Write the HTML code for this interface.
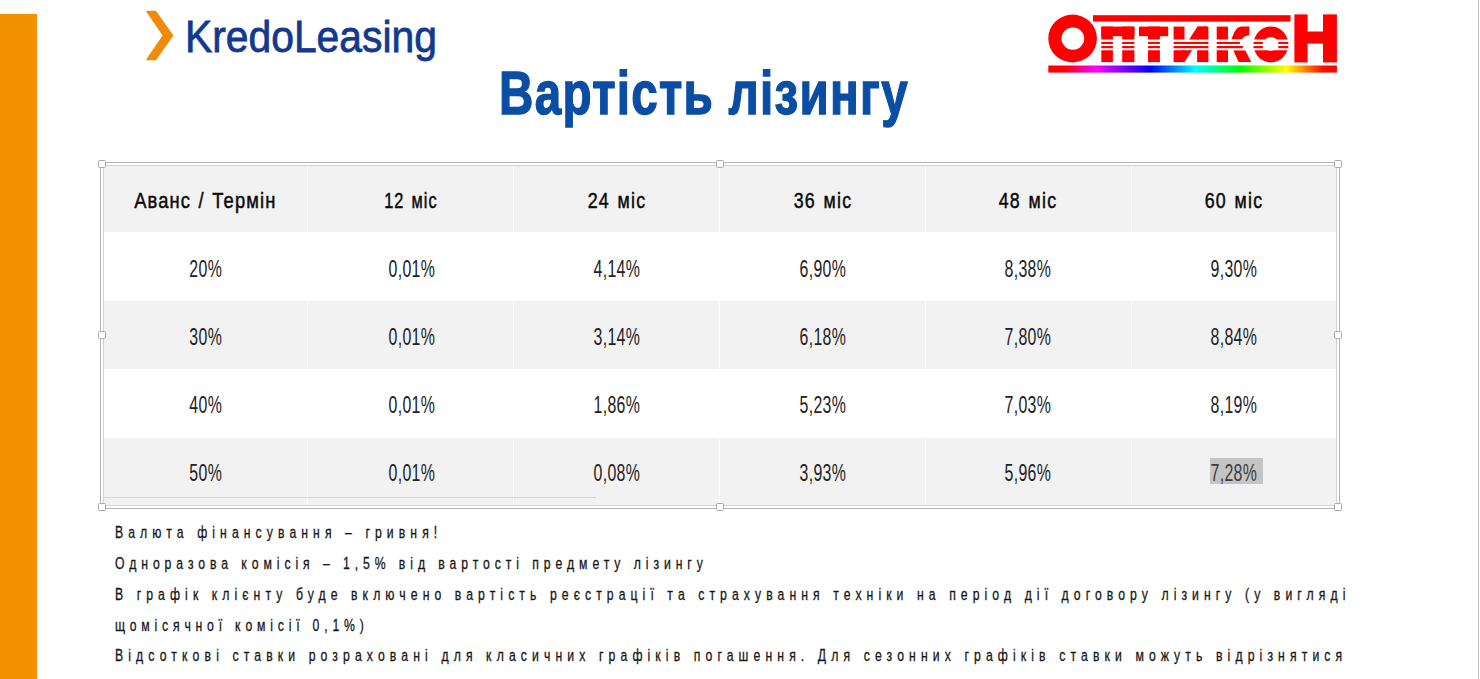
<!DOCTYPE html>
<html><head><meta charset="utf-8">
<style>
html,body{margin:0;padding:0;}
body{width:1480px;height:679px;overflow:hidden;background:#fff;position:relative;font-family:"Liberation Sans",sans-serif;}
.abs{position:absolute;}
.t{position:absolute;white-space:pre;line-height:1;}
#bar{left:0;top:14px;width:37px;height:665px;background:#F39100;}
#rline{left:1478px;top:0;width:1px;height:679px;background:#bfbfbf;}
#title{left:499px;top:61.8px;font-size:62px;font-weight:700;color:#0A4EA4;-webkit-text-stroke:1.4px #0A4EA4;letter-spacing:1.65px;transform:scaleX(0.768);transform-origin:0 0;}
#kredo{left:184.5px;top:14px;font-size:45px;color:#13388F;-webkit-text-stroke:0.8px #13388F;transform:scaleX(0.907);transform-origin:0 0;}
/* table */
#tbl{left:103px;top:165px;width:1234px;height:340px;}
.row{position:absolute;left:0;width:1234px;}
.g{background:#F2F2F2;}
.vl{position:absolute;top:0;width:1px;height:340px;background:#fdfdfd;}
.cell{position:absolute;width:205.5px;height:30px;text-align:center;}
.cell span{display:inline-block;white-space:pre;line-height:1;}
.h span{font-size:22.5px;font-weight:400;color:#0a0a0a;-webkit-text-stroke:0.5px #0a0a0a;letter-spacing:1.5px;word-spacing:2px;transform:scaleX(0.79);}
.d span{font-size:23px;color:#222;letter-spacing:0.5px;transform:scaleX(0.69);}
.hd{position:absolute;width:6px;height:6px;border:1px solid #a8a8a8;border-radius:1.5px;background:#fff;}
.d span.sel{color:#3c3c3c;}
.note{position:absolute;font-size:16.3px;color:#161616;-webkit-text-stroke:0.3px #161616;white-space:pre;line-height:1;transform:scaleX(0.75);transform-origin:0 0;}
</style></head>
<body>
<div id="bar" class="abs"></div>
<div id="rline" class="abs"></div>

<!-- Kredo logo -->
<svg class="abs" style="left:0;top:0" width="200" height="70">
  <path d="M147,11.5 L155.5,11.5 L172.5,35.5 L155.5,59.5 L147,59.5 L163.5,35.5 Z" fill="#F28A08" stroke="#F28A08" stroke-width="1.4" stroke-linejoin="round"/>
</svg>
<div id="kredo" class="t">KredoLeasing</div>

<!-- Optikon logo -->
<svg class="abs" style="left:1040px;top:10px" width="305" height="70" viewBox="1040 10 305 70">
  <defs>
    <linearGradient id="rb" x1="1048.3" x2="1336.9" gradientUnits="userSpaceOnUse">
      <stop offset="0" stop-color="#ff0000"/>
      <stop offset="0.06" stop-color="#ff0010"/>
      <stop offset="0.165" stop-color="#ff00ff"/>
      <stop offset="0.352" stop-color="#0000ff"/>
      <stop offset="0.51" stop-color="#00ffff"/>
      <stop offset="0.663" stop-color="#00ff00"/>
      <stop offset="0.824" stop-color="#ffff00"/>
      <stop offset="0.95" stop-color="#ff1000"/>
      <stop offset="1" stop-color="#ff0000"/>
    </linearGradient>
  </defs>
  <path fill="#f00" fill-rule="evenodd" d="M1048.3,38.5 a24.3,23.85 0 1,0 48.6,0 a24.3,23.85 0 1,0 -48.6,0 Z M1061.5,38.6 a11.35,11.05 0 1,0 22.7,0 a11.35,11.05 0 1,0 -22.7,0 Z"/>
  <rect x="1093" y="15.2" width="197.5" height="6.4" fill="#f00"/>
  <g fill="#f00">
    <!-- н big -->
    <rect x="1294.4" y="14.4" width="13.2" height="48"/>
    <rect x="1323" y="14.4" width="13.9" height="48"/>
    <rect x="1307" y="31.5" width="16.5" height="12.1"/>
  </g>
  <g fill="#f00" clip-path="url(#cl)">
    <!-- п -->
    <rect x="1101.3" y="26.6" width="33.1" height="9.6"/>
    <rect x="1101.3" y="26.6" width="11.6" height="35.5"/>
    <rect x="1122.2" y="26.6" width="12.2" height="35.5"/>
    <!-- т -->
    <rect x="1139" y="26.6" width="29.2" height="9.6"/>
    <rect x="1148" y="26.6" width="11.9" height="35.5"/>
    <!-- и -->
    <rect x="1173.6" y="26.6" width="10.9" height="35.5"/>
    <rect x="1197.1" y="26.6" width="11.3" height="35.5"/>
    <polygon points="1197.5,26.6 1207.4,26.6 1184.5,62.1 1174.6,62.1"/>
    <!-- к -->
    <rect x="1216.7" y="26.6" width="11.3" height="35.5"/>
    <path d="M1227,39.5 L1231.3,39.5 C1234,33 1236,27 1241.2,26.6 L1249.5,26.6 L1249.2,35.2 C1246,35.5 1243,36.5 1241.9,39.5 Z"/>
    <polygon points="1233.3,50.2 1245.2,50.2 1251.2,62.1 1238.6,62.1"/>
    <!-- о -->
    <path fill-rule="evenodd" d="M1253.5,44.45 a17.4,17.95 0 1,0 34.8,0 a17.4,17.95 0 1,0 -34.8,0 Z M1263.4,43.9 a7.45,6.9 0 1,0 14.9,0 a7.45,6.9 0 1,0 -14.9,0 Z"/>
  </g>
  <clipPath id="cl">
    <rect x="1090" y="20" width="200" height="19.5"/>
    <rect x="1090" y="50.2" width="200" height="15"/>
  </clipPath>
  <g fill="#f00">
    <rect x="1101.3" y="41.9" width="11.6" height="2.1"/><rect x="1101.3" y="46" width="11.6" height="2.2"/>
    <rect x="1122.2" y="41.9" width="12.2" height="2.1"/><rect x="1122.2" y="46" width="12.2" height="2.2"/>
    <rect x="1148" y="41.9" width="11.9" height="2.1"/><rect x="1148" y="46" width="11.9" height="2.2"/>
    <rect x="1173.6" y="41.9" width="34.8" height="2.1"/><rect x="1173.6" y="46" width="34.8" height="2.2"/>
    <rect x="1216.7" y="41.9" width="23.2" height="2.1"/><rect x="1216.7" y="46" width="26.2" height="2.2"/>
    <rect x="1253.5" y="41.9" width="9.4" height="2.1"/><rect x="1253.5" y="46" width="9.4" height="2.2"/>
    <rect x="1278.3" y="41.9" width="10" height="2.1"/><rect x="1278.3" y="46" width="10" height="2.2"/>
  </g>
  <rect x="1048.3" y="65.5" width="288.6" height="7.1" fill="url(#rb)"/>
</svg>

<div id="title" class="t">Вартість лізингу</div>

<!-- table -->
<div id="tbl" class="abs">
  <div class="row g" style="top:0;height:67px"></div>
  <div class="row" style="top:67px;height:69px"></div>
  <div class="row g" style="top:136px;height:68px"></div>
  <div class="row" style="top:204px;height:69px"></div>
  <div class="row g" style="top:273px;height:67px"></div>
  <div class="vl" style="left:204px"></div>
  <div class="vl" style="left:410px"></div>
  <div class="vl" style="left:616px"></div>
  <div class="vl" style="left:822px"></div>
  <div class="vl" style="left:1028px"></div>
</div>

<!-- selection frame -->
<div class="abs" style="left:100px;top:162px;width:1239px;height:346px;border:1px solid #b4b4b4;box-sizing:border-box;width:1240px;height:347px"></div>
<div class="abs" style="left:103px;top:165px;width:1234px;height:341px;border:1px solid #d2d2d2;box-sizing:border-box"></div>
<div class="abs" style="left:103px;top:497px;width:493px;height:1px;background:#d6d6d6"></div>
<div class="hd" style="left:98px;top:160px"></div>
<div class="hd" style="left:716px;top:160px"></div>
<div class="hd" style="left:1334px;top:160px"></div>
<div class="hd" style="left:98px;top:331px"></div>
<div class="hd" style="left:1334px;top:331px"></div>
<div class="hd" style="left:98px;top:503px"></div>
<div class="hd" style="left:716px;top:503px"></div>
<div class="hd" style="left:1334px;top:503px"></div>
<div class="abs" style="left:1210px;top:458px;width:53px;height:26px;background:#C4C4C4"></div>
<!--CELLS-->
<div class="cell h" style="left:102.5px;top:189.65px"><span style="transform:scaleX(0.815);word-spacing:1.5px;letter-spacing:1.4px">Аванс / Термін</span></div>
<div class="cell h" style="left:308.0px;top:189.65px"><span style="transform:scaleX(0.725)">12 міс</span></div>
<div class="cell h" style="left:514.5px;top:189.65px"><span>24 міс</span></div>
<div class="cell h" style="left:720.0px;top:189.65px"><span>36 міс</span></div>
<div class="cell h" style="left:925.5px;top:189.65px"><span>48 міс</span></div>
<div class="cell h" style="left:1131.0px;top:189.65px"><span>60 міс</span></div>
<div class="cell d" style="left:103.5px;top:257.53px"><span>20%</span></div>
<div class="cell d" style="left:309.0px;top:257.53px"><span>0,01%</span></div>
<div class="cell d" style="left:514.5px;top:257.53px"><span>4,14%</span></div>
<div class="cell d" style="left:720.0px;top:257.53px"><span>6,90%</span></div>
<div class="cell d" style="left:925.5px;top:257.53px"><span>8,38%</span></div>
<div class="cell d" style="left:1131.0px;top:257.53px"><span>9,30%</span></div>
<div class="cell d" style="left:103.5px;top:325.53px"><span>30%</span></div>
<div class="cell d" style="left:309.0px;top:325.53px"><span>0,01%</span></div>
<div class="cell d" style="left:514.5px;top:325.53px"><span>3,14%</span></div>
<div class="cell d" style="left:720.0px;top:325.53px"><span>6,18%</span></div>
<div class="cell d" style="left:925.5px;top:325.53px"><span>7,80%</span></div>
<div class="cell d" style="left:1131.0px;top:325.53px"><span>8,84%</span></div>
<div class="cell d" style="left:103.5px;top:393.53px"><span>40%</span></div>
<div class="cell d" style="left:309.0px;top:393.53px"><span>0,01%</span></div>
<div class="cell d" style="left:514.5px;top:393.53px"><span>1,86%</span></div>
<div class="cell d" style="left:720.0px;top:393.53px"><span>5,23%</span></div>
<div class="cell d" style="left:925.5px;top:393.53px"><span>7,03%</span></div>
<div class="cell d" style="left:1131.0px;top:393.53px"><span>8,19%</span></div>
<div class="cell d" style="left:103.5px;top:461.53px"><span>50%</span></div>
<div class="cell d" style="left:309.0px;top:461.53px"><span>0,01%</span></div>
<div class="cell d" style="left:514.5px;top:461.53px"><span>0,08%</span></div>
<div class="cell d" style="left:720.0px;top:461.53px"><span>3,93%</span></div>
<div class="cell d" style="left:925.5px;top:461.53px"><span>5,96%</span></div>
<div class="cell d" style="left:1131.0px;top:461.53px"><span class="sel">7,28%</span></div>
<!--/CELLS-->

<!--NOTES-->
<div class="note" style="top:523.90px;left:115px;letter-spacing:6.776px">Валюта фінансування – гривня!</div>
<div class="note" style="top:555.00px;left:115px;letter-spacing:6.569px">Одноразова комісія – 1,5% від вартості предмету лізингу</div>
<div class="note" style="top:585.90px;left:115px;letter-spacing:6.770px">В графік клієнту буде включено вартість реєстрації та страхування техніки на період дії договору лізингу (у вигляді</div>
<div class="note" style="top:616.50px;left:115px;letter-spacing:6.413px">щомісячної комісії 0,1%)</div>
<div class="note" style="top:647.20px;left:115px;letter-spacing:6.819px">Відсоткові ставки розраховані для класичних графіків погашення. Для сезонних графіків ставки можуть відрізнятися</div>
<!--/NOTES-->
</body></html>
